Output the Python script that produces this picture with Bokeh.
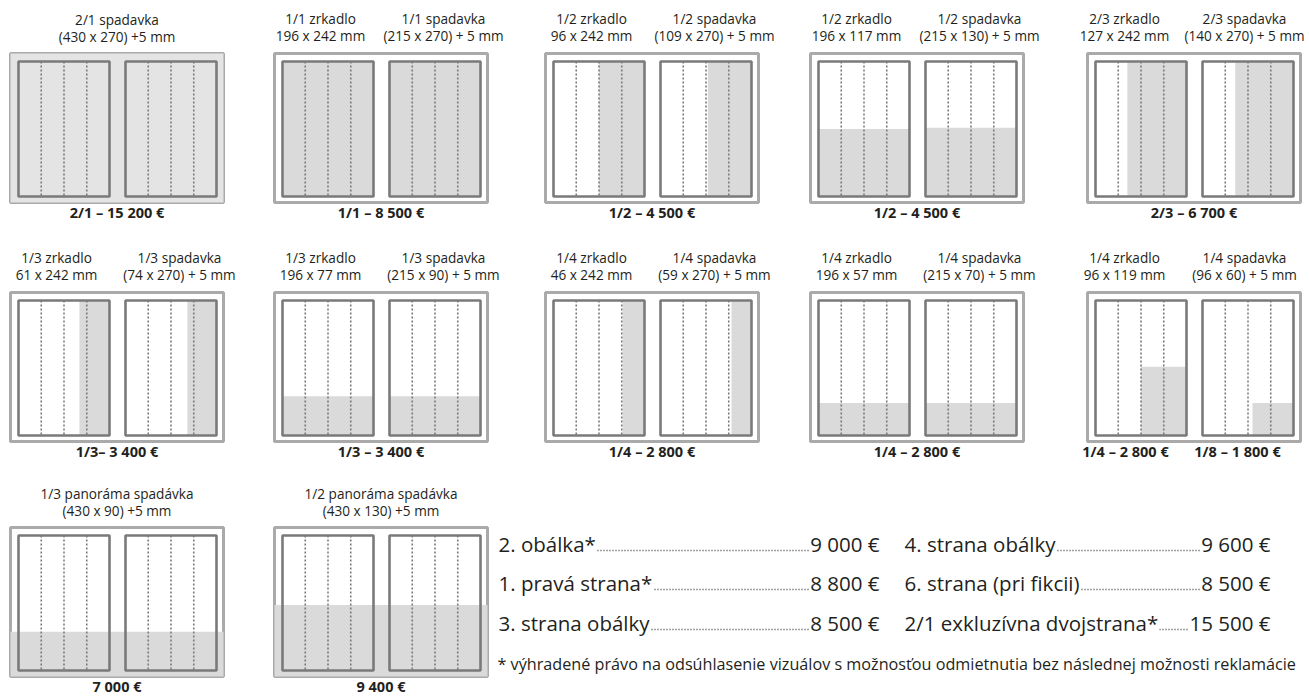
from bokeh.plotting import figure
from bokeh.models import Range1d, ColumnDataSource
from bokeh.core.properties import value
from bokeh.embed import file_html
from bokeh.resources import INLINE

# ---------------- data ----------------
spread_titles = ["2/1 spadavka", None, None, None, None, None, None, None, None, None,
                 "1/3 panoráma spadávka", "1/2 panoráma spadávka"]
spread_sizes = ["(430 x 270) +5 mm", None, None, None, None, None, None, None, None, None,
                "(430 x 90) +5 mm", "(430 x 130) +5 mm"]
mirror_titles = [None, "1/1 zrkadlo", "1/2 zrkadlo", "1/2 zrkadlo", "2/3 zrkadlo",
                 "1/3 zrkadlo", "1/3 zrkadlo", "1/4 zrkadlo", "1/4 zrkadlo", "1/4 zrkadlo", None, None]
mirror_sizes = [None, "196 x 242 mm", "96 x 242 mm", "196 x 117 mm", "127 x 242 mm",
                "61 x 242 mm", "196 x 77 mm", "46 x 242 mm", "196 x 57 mm", "96 x 119 mm", None, None]
bleed_titles = [None, "1/1 spadavka", "1/2 spadavka", "1/2 spadavka", "2/3 spadavka",
                "1/3 spadavka", "1/3 spadavka", "1/4 spadavka", "1/4 spadavka", "1/4 spadavka", None, None]
bleed_sizes = [None, "(215 x 270) + 5 mm", "(109 x 270) + 5 mm", "(215 x 130) + 5 mm",
               "(140 x 270) + 5 mm", "(74 x 270) + 5 mm", "(215 x 90) + 5 mm",
               "(59 x 270) + 5 mm", "(215 x 70) + 5 mm", "(96 x 60) + 5 mm", None, None]
prices = [["2/1 – 15 200 €"], ["1/1 – 8 500 €"], ["1/2 – 4 500 €"], ["1/2 – 4 500 €"],
          ["2/3 – 6 700 €"], ["1/3– 3 400 €"], ["1/3 – 3 400 €"], ["1/4 – 2 800 €"],
          ["1/4 – 2 800 €"], ["1/4 – 2 800 €", "1/8 – 1 800 €"], ["7 000 €"], ["9 400 €"]]
# ad area: "spread" = across whole spread, "pages" = on each page
fill_scope = ["spread", "pages", "pages", "pages", "pages", "pages", "pages", "pages",
              "pages", "pages", "spread", "spread"]
# fraction of width / height where the grey ad area starts (from left / from top)
left_fill_x = [0, 0, 0.50, 0, 0.35, 0.67, 0, 0.76, 0, 0.50, 0, 0]
left_fill_y = [0, 0, 0, 0.50, 0, 0, 0.71, 0, 0.76, 0.49, 0.70, 0.52]
right_fill_x = [0, 0, 0.52, 0, 0.36, 0.68, 0, 0.78, 0, 0.55, 0, 0]
right_fill_y = [0, 0, 0, 0.49, 0, 0, 0.71, 0, 0.76, 0.76, 0.70, 0.52]

list_left_items = ["2. obálka*", "1. pravá strana*", "3. strana obálky"]
list_left_prices = ["9 000 €", "8 800 €", "8 500 €"]
list_right_items = ["4. strana obálky", "6. strana (pri fikcii)", "2/1 exkluzívna dvojstrana*"]
list_right_prices = ["9 600 €", "8 500 €", "15 500 €"]
footnote = "* výhradené právo na odsúhlasenie vizuálov s možnosťou odmietnutia bez následnej možnosti reklamácie"

# ---------------- layout ----------------
W, H = 1309, 697
col_x = [10, 274, 545, 810, 1087]
title_off = [(46, 169), (46, 169), (46, 169), (46, 169), (37, 157)]
row_top = [53, 292, 527]
BOX_W, BOX_H = 213, 149
PL, PR, PW = 8, 115, 91
PT, PB = 8, 6
FONT = "Open Sans"
TXT = "#231f20"

p = figure(width=W, height=H, x_range=Range1d(0, W), y_range=Range1d(H, 0),
           x_axis_type=None, y_axis_type=None, toolbar_location=None,
           output_backend="svg", min_border=0)
p.outline_line_color = None
p.grid.visible = False
p.background_fill_color = "white"

outer = dict(l=[], r=[], t=[], b=[])
pages = dict(l=[], r=[], t=[], b=[])
fills = dict(l=[], r=[], t=[], b=[], c=[])
guides = dict(x=[], y0=[], y1=[])
tt = dict(x=[], y=[], t=[])
pt = dict(x=[], y=[], t=[])

for i in range(len(prices)):
    col = i % 5
    bx = col_x[col]
    by = row_top[i // 5]
    outer["l"].append(bx); outer["r"].append(bx + BOX_W)
    outer["t"].append(by); outer["b"].append(by + BOX_H)
    page_x = [bx + PL, bx + PR]
    ptop, pbot = by + PT, by + BOX_H - PB
    for px in page_x:
        pages["l"].append(px); pages["r"].append(px + PW)
        pages["t"].append(ptop); pages["b"].append(pbot)
        for f in (0.25, 0.5, 0.75):
            guides["x"].append(px + f * PW); guides["y0"].append(ptop); guides["y1"].append(pbot)
    if fill_scope[i] == "spread":
        fills["l"].append(bx); fills["r"].append(bx + BOX_W)
        fills["t"].append(by + left_fill_y[i] * BOX_H); fills["b"].append(by + BOX_H)
        fills["c"].append("#e4e4e4" if left_fill_y[i] == 0 else "#dadada")
    else:
        for px, fx, fy in ((page_x[0], left_fill_x[i], left_fill_y[i]),
                           (page_x[1], right_fill_x[i], right_fill_y[i])):
            fills["l"].append(px + fx * PW); fills["r"].append(px + PW)
            fills["t"].append(ptop + fy * (pbot - ptop)); fills["b"].append(pbot)
            fills["c"].append("#dadada")
    # titles
    if spread_titles[i] is not None:
        for line, dy in ((spread_titles[i], -34), (spread_sizes[i], -17)):
            tt["x"].append(bx + BOX_W / 2); tt["y"].append(by + dy); tt["t"].append(line)
    else:
        lo, ro = title_off[col]
        for cx, a, b in ((bx + lo, mirror_titles[i], mirror_sizes[i]),
                         (bx + ro, bleed_titles[i], bleed_sizes[i])):
            tt["x"].append(cx); tt["y"].append(by - 35); tt["t"].append(a)
            tt["x"].append(cx); tt["y"].append(by - 18); tt["t"].append(b)
    # prices
    if len(prices[i]) == 1:
        pt["x"].append(bx + BOX_W / 2); pt["y"].append(by + BOX_H + 10); pt["t"].append(prices[i][0])
    else:
        for cx, s in zip((bx + 38, bx + 150), prices[i]):
            pt["x"].append(cx); pt["y"].append(by + BOX_H + 10); pt["t"].append(s)

p.quad(left="l", right="r", top="t", bottom="b", source=ColumnDataSource(outer),
       fill_color="white", line_color="#aaaaaa", line_width=3)
p.quad(left="l", right="r", top="t", bottom="b", color="c", source=ColumnDataSource(fills),
       line_color=None)
p.quad(left="l", right="r", top="t", bottom="b", source=ColumnDataSource(pages),
       fill_color=None, line_color="#7a7a7a", line_width=2.6)
p.segment(x0="x", x1="x", y0="y0", y1="y1", source=ColumnDataSource(guides),
          line_color="#7a7a7a", line_width=1.6, line_dash="2 2")
p.text(x="x", y="y", text="t", source=ColumnDataSource(tt), text_align="center",
       text_baseline="middle", text_font=value(FONT), text_font_size=value("13.6px"),
       text_color=TXT)
p.text(x="x", y="y", text="t", source=ColumnDataSource(pt), text_align="center",
       text_baseline="middle", text_font=value(FONT), text_font_size=value("14.5px"),
       text_font_style="bold", text_color=TXT)

# price list
list_rows = [543, 582, 622]
list_cols = [(497, 880, list_left_items, list_left_prices),
             (903, 1271, list_right_items, list_right_prices)]
lead = dict(x0=[], x1=[], y=[])
lab = dict(x=[], y=[], t=[])
val = dict(x=[], y=[], t=[])
for x0, x1, items, vals in list_cols:
    for y, it, v in zip(list_rows, items, vals):
        lead["x0"].append(x0 + 10); lead["x1"].append(x1 - 10); lead["y"].append(y + 7)
        lab["x"].append(x0); lab["y"].append(y); lab["t"].append(it)
        val["x"].append(x1); val["y"].append(y); val["t"].append(v)
p.segment(x0="x0", x1="x1", y0="y", y1="y", source=ColumnDataSource(lead),
          line_color="#444444", line_width=1.3, line_dash="1 2")
p.text(x="x", y="y", text="t", source=ColumnDataSource(lab), text_align="left",
       text_baseline="middle", text_font=value(FONT), text_font_size=value("20.5px"),
       text_color=TXT, background_fill_color="white", padding=1)
p.text(x="x", y="y", text="t", source=ColumnDataSource(val), text_align="right",
       text_baseline="middle", text_font=value(FONT), text_font_size=value("20.5px"),
       text_color=TXT, background_fill_color="white", padding=1)
p.text(x=[497], y=[663], text=[footnote], text_align="left", text_baseline="middle",
       text_font=value(FONT), text_font_size=value("16.2px"), text_color=TXT)

open("out.html", "w").write(file_html(p, INLINE))
